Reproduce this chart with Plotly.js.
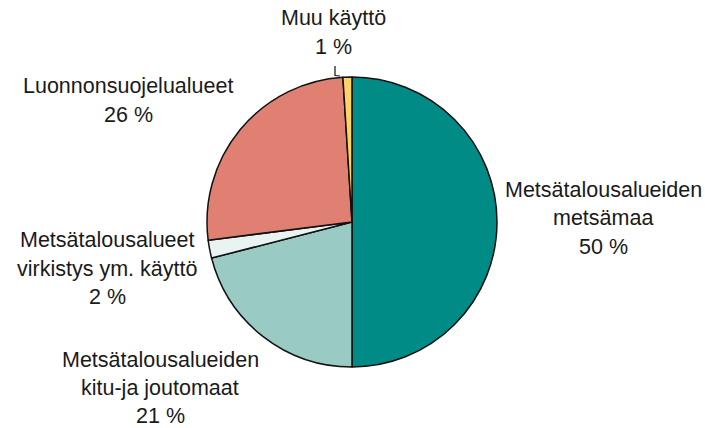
<!DOCTYPE html>
<html>
<head>
<meta charset="utf-8">
<script src="https://cdn.plot.ly/plotly-3.0.1.min.js"></script>
<style>html,body{margin:0;padding:0;background:#fff;}#chart{width:705px;height:428px;}</style>
</head>
<body>
<div id="chart"></div>
<script>
const categories = ["Metsätalousalueiden metsämaa", "Metsätalousalueiden kitu-ja joutomaat", "Metsätalousalueet virkistys ym. käyttö", "Luonnonsuojelualueet", "Muu käyttö"];
const labelLines = [["Metsätalousalueiden", "metsämaa"], ["Metsätalousalueiden", "kitu-ja joutomaat"], ["Metsätalousalueet", "virkistys ym. käyttö"], ["Luonnonsuojelualueet"], ["Muu käyttö"]];
const values = [50, 21, 2, 26, 1];
const colors = ["#008b86", "#99cac4", "#e9f3f1", "#e08072", "#fbd36a"];

const W = 705, H = 428;
// label centre positions (pixels) of first line, per category
const labelPos = [[603, 190], [160, 360], [107, 240], [128, 86], [333, 18]];
const lineGaps = [28.5, 28, 28.5, 28.5, 28.5];
const px = x => x / W, py = y => 1 - y / H;

const annotations = [];
categories.forEach((c, i) => {
  const lines = labelLines[i].concat([values[i] + " %"]);
  lines.forEach((t, j) => {
    annotations.push({
      text: t, showarrow: false, xref: "paper", yref: "paper",
      x: px(labelPos[i][0]), y: py(labelPos[i][1] + j * lineGaps[i]),
      xanchor: "center", yanchor: "middle", borderpad: 0,
      font: {family: "Liberation Sans, Arial, sans-serif", size: 21.5, color: "#1a1a1a"}
    });
  });
});

const cx = 352, cy = 222, r = 145;
const data = [{
  type: "pie", labels: categories, values: values, sort: false, direction: "clockwise", rotation: 0,
  marker: {colors: colors, line: {color: "#111", width: 1.5}},
  textinfo: "none", hoverinfo: "label+value", showlegend: false,
  domain: {x: [px(cx - r), px(cx + r)], y: [py(cy + r), py(cy - r)]}
}];

const layout = {
  width: W, height: H, margin: {l: 0, r: 0, t: 0, b: 0},
  paper_bgcolor: "#fff", plot_bgcolor: "#fff",
  annotations: annotations,
  shapes: [{type: "path", xref: "paper", yref: "paper",
    path: `M ${px(335)} ${py(66)} L ${px(335)} ${py(75.5)} L ${px(340)} ${py(76)}`,
    line: {color: "#111", width: 1.2}}]
};
Plotly.newPlot("chart", data, layout, {displayModeBar: false, staticPlot: true});
</script>
</body>
</html>
